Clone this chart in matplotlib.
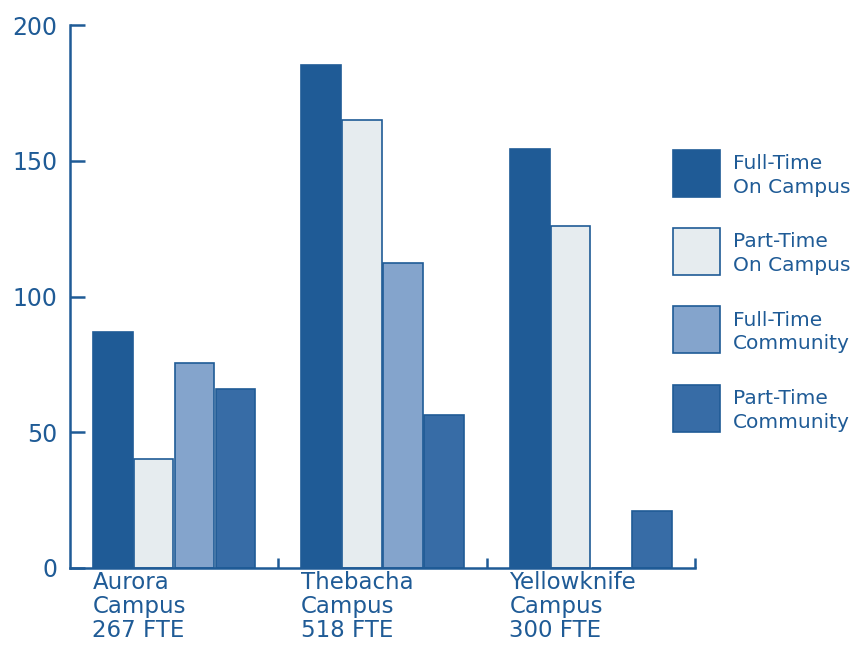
import numpy as np
import matplotlib
matplotlib.use("Agg")
import matplotlib.pyplot as plt
from matplotlib.patches import Patch, Rectangle
from matplotlib.legend_handler import HandlerPatch

plt.rcParams['font.family'] = ['DejaVu Sans']

campuses = ["Aurora\nCampus\n267 FTE", "Thebacha\nCampus\n518 FTE", "Yellowknife\nCampus\n300 FTE"]
series = ["Full-Time\nOn Campus", "Part-Time\nOn Campus", "Full-Time\nCommunity", "Part-Time\nCommunity"]
full_on = [87, 185.5, 154.5]
part_on = [40, 165, 126]
full_comm = [75.5, 112.5, 0]
part_comm = [66, 56.5, 21]

blue = '#1f5b96'
colors = ['#1f5b96', '#e6ecef', '#84a4cc', '#376ca6']

fig = plt.figure(figsize=(8.52, 6.46), dpi=100)
ax = fig.add_axes([0.082, 0.121, 0.734, 0.840])

x = np.arange(len(campuses))
w = 0.196
values = [full_on, part_on, full_comm, part_comm]
for i, (vals, c) in enumerate(zip(values, colors)):
    ax.bar(x + (i - 1.5) * w, vals, width=w * 0.97, color=c,
           edgecolor=blue, linewidth=1.2)

ax.set_xlim(-0.5, 2.5)
ax.set_ylim(0, 200)
ax.set_yticks([0, 50, 100, 150, 200])
ax.tick_params(axis='y', direction='in', length=11, width=1.8, colors=blue,
               labelsize=17, pad=9)
ax.set_xticks(x - 2 * w)
ax.set_xticklabels(campuses, ha='left', fontsize=16.5, color=blue, linespacing=1.08)
ax.tick_params(axis='x', length=0, pad=2)
ax.set_xticks([0.5, 1.5, 2.5], minor=True)
ax.tick_params(axis='x', which='minor', direction='in', length=7, width=1.8, color=blue)

for s in ['top', 'right']:
    ax.spines[s].set_visible(False)
for s in ['left', 'bottom']:
    ax.spines[s].set_color(blue)
    ax.spines[s].set_linewidth(1.8)


# square legend swatch, sitting a little below the second text line
def square(legend, orig_handle, xdescent, ydescent, width, height, fontsize):
    return Rectangle((-xdescent, -10), width, 34)


handles = [Patch(facecolor=c, edgecolor=blue, linewidth=1.2) for c in colors]
fig.legend(handles, series, loc='upper left', bbox_to_anchor=(0.778, 0.777),
           frameon=False, fontsize=14.5, labelcolor=blue, borderpad=0,
           handlelength=34 / 14.5, handleheight=0.7, labelspacing=1.78,
           handletextpad=0.65,
           handler_map={Patch: HandlerPatch(patch_func=square)})
for t in fig.legends[0].get_texts():
    t.set_linespacing(1.3)

fig.savefig('out.png', dpi=100)
